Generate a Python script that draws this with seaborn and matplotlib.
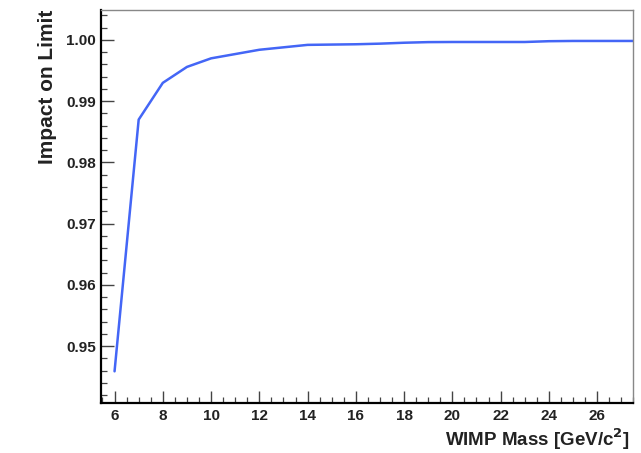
"""Impact on limit vs WIMP mass, ROOT-like styling."""
import matplotlib
matplotlib.use("Agg")
import matplotlib.pyplot as plt
import pandas as pd
import seaborn as sns
from matplotlib.ticker import MultipleLocator

# values
wimp_mass = [6, 7, 8, 9, 10, 11, 12, 13, 14, 15, 16, 17, 18, 19, 20,
             21, 22, 23, 24, 25, 26, 27, 28]
impact = [0.9459, 0.9870, 0.9930, 0.9956, 0.9970, 0.9977, 0.9984, 0.9988,
          0.9992, 0.99925, 0.9993, 0.9994, 0.99955, 0.99965, 0.99967,
          0.99967, 0.99967, 0.99967, 0.9998, 0.99984, 0.99984, 0.99984,
          0.99984]

y_ticks = [0.95, 0.96, 0.97, 0.98, 0.99, 1.00]
x_ticks = [6, 8, 10, 12, 14, 16, 18, 20, 22, 24, 26]

sns.set_theme(style="ticks")
plt.rcParams["font.family"] = ["Liberation Sans", "DejaVu Sans"]

df = pd.DataFrame({"mass": wimp_mass, "impact": impact})

fig = plt.figure(figsize=(6.41, 4.53), dpi=100)
ax = fig.add_axes([0.158, 0.110, 0.830, 0.868])

sns.lineplot(data=df, x="mass", y="impact", ax=ax, color="#2f55f5",
             linewidth=1.8, alpha=0.9)

ax.set_xlim(5.45, 27.5)
ax.set_ylim(0.9407, 1.0049)
ax.set_xticks(x_ticks)
ax.set_yticks(y_ticks)
ax.set_yticklabels([f"{v:.2f}" for v in y_ticks])
ax.xaxis.set_minor_locator(MultipleLocator(0.5))
ax.yaxis.set_minor_locator(MultipleLocator(0.002))

ax.tick_params(axis="both", which="major", direction="in", length=9,
               width=1.0, color="#444444", labelsize=11, pad=4)
ax.tick_params(axis="both", which="minor", direction="in", length=4.5,
               width=0.9, color="#444444")
for lab in ax.get_xticklabels() + ax.get_yticklabels():
    lab.set_fontweight("bold")
    lab.set_color("#222222")

for side in ("left", "bottom"):
    ax.spines[side].set_linewidth(1.6)
    ax.spines[side].set_color("black")
for side in ("top", "right"):
    ax.spines[side].set_visible(True)
    ax.spines[side].set_linewidth(1.0)
    ax.spines[side].set_color("#888888")

ax.set_xlabel("WIMP Mass [GeV/c$^{\\mathbf{2}}$]", fontsize=13.5,
              fontweight="bold", color="#222222")
ax.set_ylabel("Impact on Limit", fontsize=15, fontweight="bold",
              color="#222222")
ax.xaxis.set_label_coords(0.993, -0.06)
ax.xaxis.label.set_ha("right")
ax.yaxis.set_label_coords(-0.083, 1.0)
ax.yaxis.label.set_ha("right")

fig.savefig("out.png", dpi=100)
